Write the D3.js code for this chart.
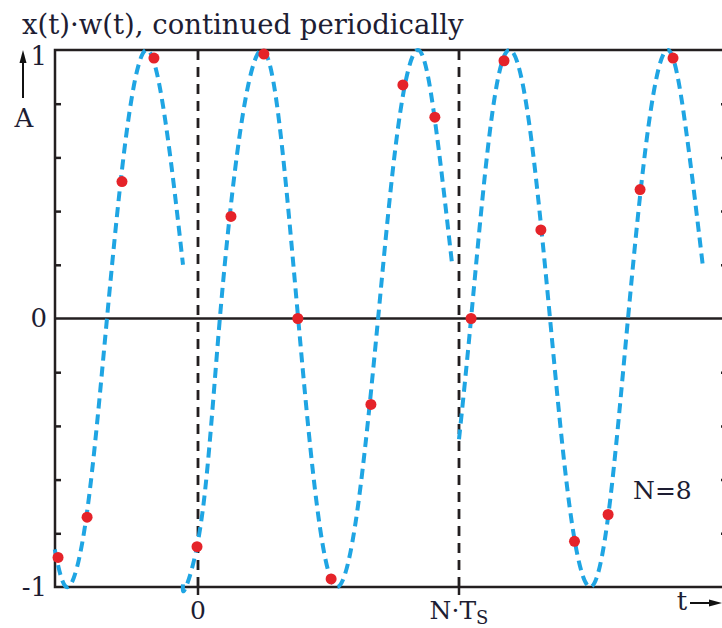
<!DOCTYPE html>
<html lang="en">
<head>
    <meta charset="utf-8">
    <title>x(t)w(t) periodic</title>
    <script src="https://cdn.jsdelivr.net/npm/d3@7"></script>
</head>
<style>
body { margin: 0; background: #fff; }
text { font-family: "DejaVu Serif", serif; fill: #1d1d33; }
.curve { fill: none; stroke: #1fa5e3; stroke-width: 4px; stroke-dasharray: 10,6; }
.frame { stroke: #231f20; stroke-width: 2.5px; fill: none; }
</style>
<body>
<script type="text/javascript">
    // time in units of Ts, window length N*Ts
    var N = 8;

    // dashed curve, one array per window piece: [t, amplitude]
    var curveLeft = [[-4.39, -0.86], [-3.98, -1], [-3.40, -0.72], [-2.79, 0], [-2.17, 0.71],
                     [-1.55, 1], [-0.97, 0.71], [-0.46, 0.2]];
    var curveMid = [[-0.46, -0.99], [-0.37, -1], [0.15, -0.71], [0.67, 0], [1.31, 0.71],
                    [1.96, 1], [2.51, 0.71], [3.07, 0], [3.66, -0.71], [4.26, -1],
                    [4.89, -0.71], [5.52, 0], [6.13, 0.71], [6.74, 1], [7.26, 0.74], [7.79, 0.2]];
    var curveRight = [[8.0, -0.45], [8.37, 0], [8.96, 0.71], [9.56, 1], [10.17, 0.71],
                      [10.79, 0], [11.40, -0.71], [12.02, -1], [12.60, -0.71], [13.18, 0],
                      [13.80, 0.71], [14.41, 1], [14.95, 0.71], [15.48, 0.19]];

    // red sample dots
    var sampleT = [-4.29, -3.40, -2.33, -1.35, -0.03, 1.01, 2.02, 3.06, 4.08, 5.30, 6.28, 7.26,
                   8.37, 9.38, 10.51, 11.54, 12.57, 13.55, 14.56];
    var sampleV = [-0.89, -0.74, 0.51, 0.97, -0.85, 0.38, 0.985, 0, -0.97, -0.32, 0.87, 0.75,
                   0, 0.96, 0.33, -0.83, -0.73, 0.48, 0.97];

    var yMinorTicks = [-0.8, -0.6, -0.4, -0.2, 0.2, 0.4, 0.6, 0.8];
    var yLabels = [-1, 0, 1];
    var xMarks = [0, N];
    var xMarkLabels = ["0", "N·T"];

    var width = 722, height = 628;
    var plotL = 55, plotR = 727, plotT = 50, plotB = 587;

    var svg = d3.select("body")
            .append("svg")
            .attr("width", width)
            .attr("height", height);

    var x = d3.scaleLinear().domain([0, N]).range([198, 459]);
    var y = d3.scaleLinear().domain([-1, 1]).range([plotB, plotT]);

    // title
    svg.append("text")
            .attr("x", 22)
            .attr("y", 34)
            .attr("font-size", "27.5px")
            .text("x(t)·w(t), continued periodically");

    // minor ticks on both sides
    svg.append("g")
            .attr("transform", "translate(" + plotL + ",0)")
            .call(d3.axisRight(y).tickValues(yMinorTicks).tickSize(6).tickFormat(""))
            .call(function(g) { g.select(".domain").remove(); })
            .selectAll("line").attr("stroke", "#231f20").attr("stroke-width", 2.5);
    svg.append("g")
            .attr("transform", "translate(" + plotR + ",0)")
            .call(d3.axisLeft(y).tickValues(yMinorTicks).tickSize(6).tickFormat(""))
            .call(function(g) { g.select(".domain").remove(); })
            .selectAll("line").attr("stroke", "#231f20").attr("stroke-width", 2.5);

    // y labels
    var ylab = svg.append("g")
            .attr("transform", "translate(" + plotL + ",0)")
            .call(d3.axisLeft(y).tickValues(yLabels).tickSize(0).tickPadding(8)
                    .tickFormat(function(d) { return d < 0 ? "-1" : String(d); }));
    ylab.select(".domain").remove();
    ylab.selectAll("text")
            .attr("font-family", "DejaVu Serif, serif")
            .attr("font-size", "26px")
            .attr("fill", "#1d1d33")
            .attr("dy", function(d) { return d === 1 ? "0.55em" : "0.32em"; });

    // frame
    svg.append("path").attr("class", "frame")
            .attr("d", "M" + (plotR + 5) + "," + plotT + "H" + plotL + "V" + plotB + "H" + (plotR + 5));
    svg.append("line").attr("class", "frame")
            .attr("x1", plotL).attr("x2", plotR + 5)
            .attr("y1", y(0)).attr("y2", y(0));

    // window borders
    svg.selectAll(".win")
            .data(xMarks)
            .enter()
            .append("line")
            .attr("class", "win")
            .attr("x1", function(d) { return x(d); })
            .attr("x2", function(d) { return x(d); })
            .attr("y1", plotT)
            .attr("y2", plotB)
            .attr("stroke", "#231f20")
            .attr("stroke-width", 2.8)
            .attr("stroke-dasharray", "10,7");
    svg.selectAll(".wtick")
            .data(xMarks)
            .enter()
            .append("line")
            .attr("x1", function(d) { return x(d); })
            .attr("x2", function(d) { return x(d); })
            .attr("y1", plotB)
            .attr("y2", plotB + 8)
            .attr("stroke", "#231f20")
            .attr("stroke-width", 2.5);

    var xl = svg.selectAll(".xlab")
            .data(xMarks)
            .enter()
            .append("text")
            .attr("x", function(d) { return x(d); })
            .attr("y", 619)
            .attr("text-anchor", "middle")
            .attr("font-size", "25px")
            .text(function(d, i) { return xMarkLabels[i]; });
    xl.filter(function(d) { return d === N; })
            .append("tspan")
            .attr("font-size", "18px")
            .attr("dy", 5)
            .text("S");

    // curve
    var line = d3.line()
            .x(function(d) { return x(d[0]); })
            .y(function(d) { return y(d[1]); })
            .curve(d3.curveNatural);

    svg.selectAll(".curve")
            .data([curveLeft, curveMid, curveRight])
            .enter()
            .append("path")
            .attr("class", "curve")
            .attr("d", line);

    // samples
    svg.selectAll(".dot")
            .data(sampleT)
            .enter()
            .append("circle")
            .attr("cx", function(d) { return x(d); })
            .attr("cy", function(d, i) { return y(sampleV[i]); })
            .attr("r", 5.5)
            .attr("fill", "#e52329");

    // axis names with arrows
    svg.append("text")
            .attr("x", 24)
            .attr("y", 127)
            .attr("text-anchor", "middle")
            .attr("font-size", "26px")
            .text("A");
    svg.append("line")
            .attr("x1", 23).attr("x2", 23)
            .attr("y1", 98).attr("y2", 58)
            .attr("stroke", "#111").attr("stroke-width", 2);
    svg.append("path")
            .attr("d", "M19.5,63L23,50L26.5,63Z")
            .attr("fill", "#111");

    svg.append("text")
            .attr("x", 682)
            .attr("y", 610)
            .attr("text-anchor", "middle")
            .attr("font-size", "26px")
            .text("t");
    svg.append("line")
            .attr("x1", 690).attr("x2", 712)
            .attr("y1", 603).attr("y2", 603)
            .attr("stroke", "#111").attr("stroke-width", 2);
    svg.append("path")
            .attr("d", "M709,599.5L722,603L709,606.5Z")
            .attr("fill", "#111");

    svg.append("text")
            .attr("x", 633)
            .attr("y", 499)
            .attr("font-size", "25px")
            .text("N=8");
</script>
</body>
</html>
